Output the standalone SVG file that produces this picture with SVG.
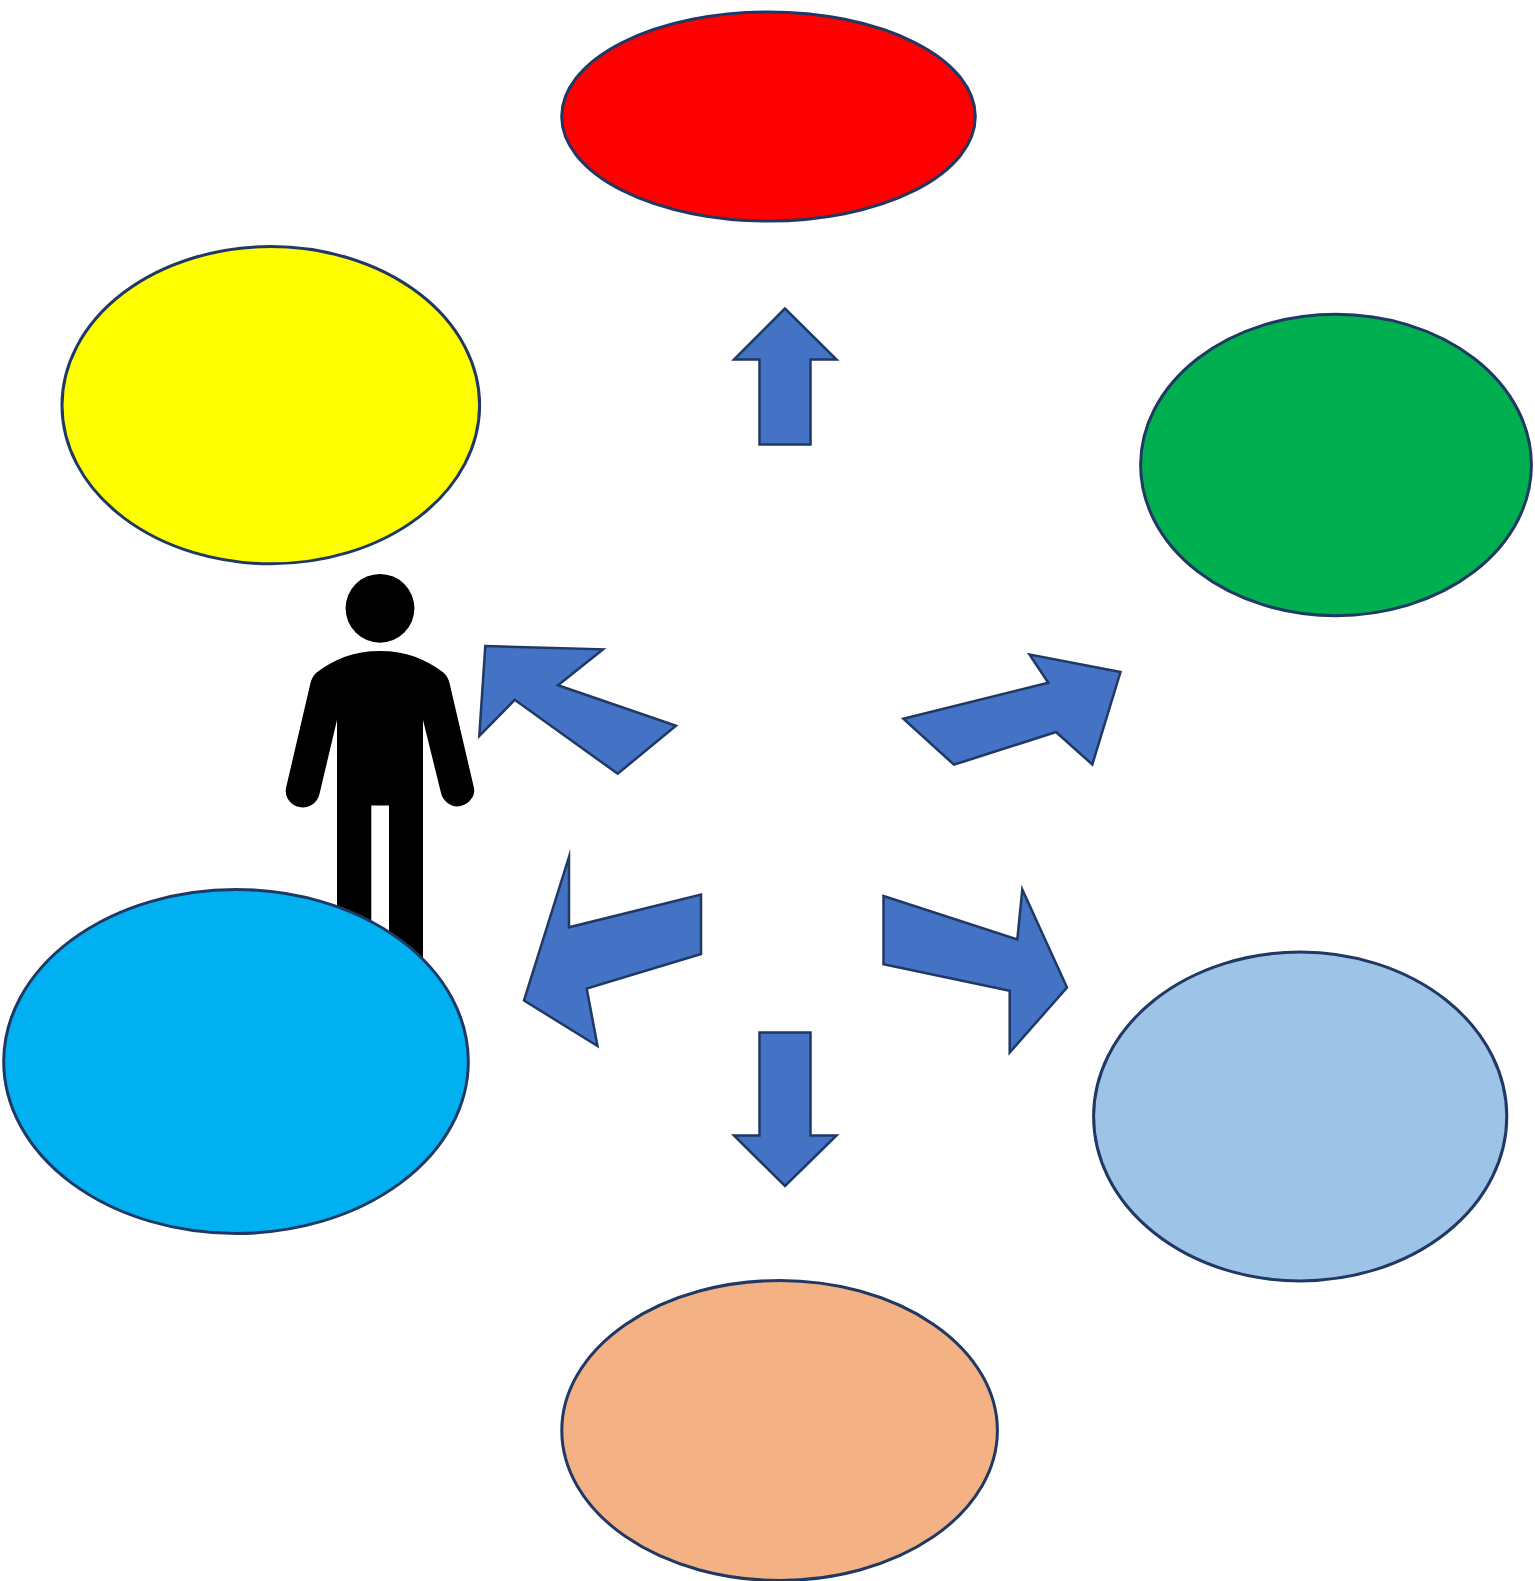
<svg xmlns="http://www.w3.org/2000/svg" width="1535" height="1581" viewBox="0 0 1535 1581">
<style>
.n{stroke:#1f3864;stroke-width:3}
.a{fill:#4472c4;stroke:#1f3864;stroke-width:2.5;stroke-linejoin:miter;stroke-miterlimit:10}
</style>
<rect width="1535" height="1581" fill="#fff"/>
<g id="person">
<circle cx="380" cy="608.3" r="34.4" fill="#000"/>
<path fill="#000" d="M380 651C354 651 334 659 316 673C313 676 311.500 679 310.500 683L286 788C284 799 293 807.500 302.500 807.500C311 807.500 317.500 802 319.500 794L337 720V1000H371.300V805.500H389V1000H423V720L441 793C443 801 450 806.500 457.500 806.500C467 806.500 476 797 474 788L449.500 683C448.500 679 447 676 444 673C426 659 406 651 380 651Z"/>
</g>
<g id="node-red"><ellipse class="n" cx="768.500" cy="116.500" rx="206.800" ry="104.500" fill="#ff0000"/></g>
<g id="node-yellow"><ellipse class="n" cx="270.800" cy="405.200" rx="208.800" ry="158.600" fill="#ffff00"/></g>
<g id="node-green"><ellipse class="n" cx="1336" cy="465" rx="195.400" ry="150.700" fill="#00b050"/></g>
<g id="node-cyan"><ellipse class="n" cx="236" cy="1061.500" rx="232.300" ry="172" fill="#00b0f0"/></g>
<g id="node-lightblue"><ellipse class="n" cx="1300.200" cy="1116.500" rx="206.600" ry="164.400" fill="#9dc3e6"/></g>
<g id="node-orange"><ellipse class="n" cx="779.600" cy="1430.500" rx="217.800" ry="150" fill="#f4b183"/></g>
<g id="connectors">
<polygon class="a" points="785,308.500 734,359.500 759.500,359.500 759.500,444.500 810.500,444.500 810.500,359.500 836.500,359.500"/>
<polygon class="a" points="759.500,1032.500 810.500,1032.500 810.500,1135.500 836.500,1135.500 785,1186 734,1135.500 759.500,1135.500"/>
<polygon class="a" points="485.300,646 603,649.300 558,685.300 676,725.700 617.700,773.700 514.700,699.800 479.300,736"/>
<polygon class="a" points="569,857 569,927.300 701,894.600 701,954 586.700,988.500 597.500,1046 524,1000.500"/>
<polygon class="a" points="903.300,718.700 1048.300,682.700 1029.500,654.500 1120.500,672 1092.300,764.500 1056,732 954,764.700"/>
<polygon class="a" points="883.500,896 1017.300,939.500 1022.300,889.500 1067,987.500 1009.700,1052.500 1009.700,990.700 883.500,964.300"/>
</g>
</svg>
